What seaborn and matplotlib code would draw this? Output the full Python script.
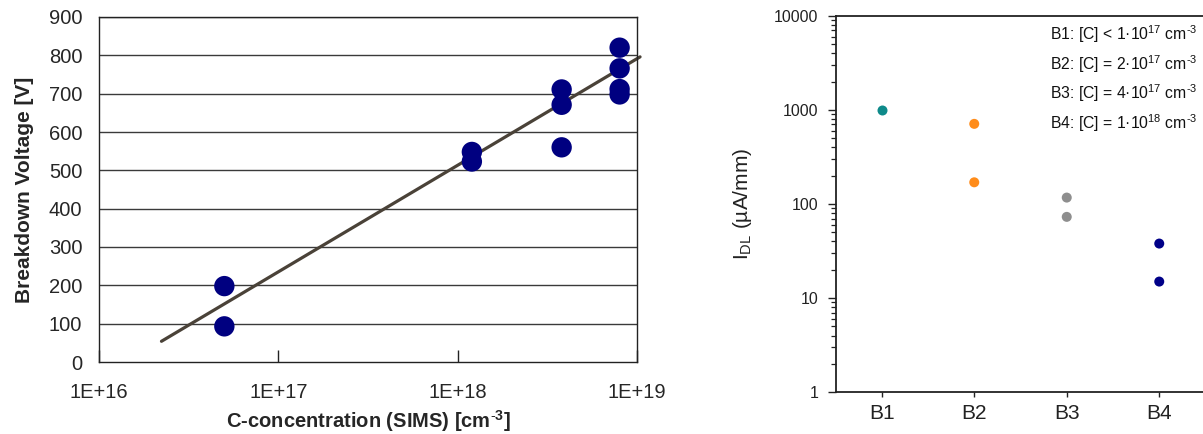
import numpy as np
import pandas as pd
import matplotlib
matplotlib.use("Agg")
import matplotlib.pyplot as plt
import matplotlib.ticker as mticker
import seaborn as sns

# ---------------- data ----------------
# Left: breakdown voltage vs C-concentration
conc = [5e16, 5e16, 1.2e18, 1.2e18, 3.8e18, 3.8e18, 3.8e18, 8e18, 8e18, 8e18, 8e18]
vbd = [198, 93, 548, 523, 711, 671, 560, 820, 766, 712, 698]
fit_conc = [2.23e16, 1.04e19]
fit_v = [54, 796]
left_xticks = [1e16, 1e17, 1e18, 1e19]
left_xticklabels = ["1E+16", "1E+17", "1E+18", "1E+19"]
left_yticks = [0, 100, 200, 300, 400, 500, 600, 700, 800, 900]

# Right: I_DL per batch
batch = ["B1", "B2", "B2", "B3", "B3", "B4", "B4"]
idl = [1000, 710, 170, 117, 73, 38, 15]
batch_order = ["B1", "B2", "B3", "B4"]
batch_colors = ["#0e8a8a", "#ff8c1a", "#8e8e8e", "#000088"]
legend_lines = [
    r"B1: [C] < 1·10$^{17}$ cm$^{\text{-}3}$",
    r"B2: [C] = 2·10$^{17}$ cm$^{\text{-}3}$",
    r"B3: [C] = 4·10$^{17}$ cm$^{\text{-}3}$",
    r"B4: [C] = 1·10$^{18}$ cm$^{\text{-}3}$",
]
right_yticks = [1, 10, 100, 1000, 10000]

# ---------------- style ----------------
sns.set_style("white")
plt.rcParams["font.family"] = ["Liberation Sans", "DejaVu Sans"]
plt.rcParams["mathtext.fontset"] = "custom"
plt.rcParams["mathtext.rm"] = "Liberation Sans"
plt.rcParams["mathtext.it"] = "Liberation Sans:italic"
plt.rcParams["mathtext.bf"] = "Liberation Sans:bold"

W, H = 1203, 434
fig = plt.figure(figsize=(W / 100, H / 100), dpi=100)

# ---------------- left chart ----------------
axL = fig.add_axes([99 / W, 1 - 362 / H, (637 - 99) / W, (362 - 17) / H])
df_left = pd.DataFrame({"conc": conc, "vbd": vbd})
df_fit = pd.DataFrame({"conc": fit_conc, "v": fit_v})

axL.set_xscale("log")
for yv in left_yticks[1:]:
    axL.axhline(yv, color="#3a3a3a", lw=1.0, zorder=0)
sns.lineplot(data=df_fit, x="conc", y="v", ax=axL, color="#4a4238", lw=2.3,
             zorder=2, clip_on=False)
sns.scatterplot(data=df_left, x="conc", y="vbd", ax=axL, color="#000080", s=215,
                edgecolor="none", zorder=3, clip_on=False)
axL.set_xlim(1e16, 1e19)
axL.set_ylim(0, 900)
axL.set_xticks(left_xticks)
axL.set_xticklabels(left_xticklabels)
axL.xaxis.set_minor_locator(mticker.NullLocator())
axL.set_yticks(left_yticks)
axL.tick_params(axis="x", which="major", direction="in", length=9, width=1,
                color="#222222", labelsize=14.5, pad=15, bottom=True)
axL.tick_params(axis="y", which="major", direction="in", length=0,
                labelsize=14.5, pad=12, left=True)
for sp in axL.spines.values():
    sp.set_visible(True)
    sp.set_color("#222222")
    sp.set_linewidth(1.0)
axL.set_xlabel(r"C-concentration (SIMS) [cm$^{\mathbf{\text{-}3}}$]", fontsize=14.5,
               fontweight="bold", va="center")
axL.xaxis.set_label_coords(0.5, (362 - 421) / 345)
axL.set_ylabel("Breakdown Voltage [V]", fontsize=15, fontweight="bold", labelpad=11)

# ---------------- right chart ----------------
axR = fig.add_axes([835.5 / W, 1 - 392.3 / H, 1 - 835.5 / W, (392.3 - 15.7) / H])
df_right = pd.DataFrame({"batch": batch, "idl": idl})
sns.stripplot(data=df_right, x="batch", y="idl", hue="batch", order=batch_order,
              hue_order=batch_order, palette=batch_colors, jitter=False, size=7.2,
              linewidth=0, ax=axR, legend=False, zorder=3)
axR.set_yscale("log")
axR.set_ylim(1, 10000)
axR.set_xlim(-0.5, -0.5 + (W - 835.5) / 92.5)
axR.yaxis.set_major_locator(mticker.FixedLocator(right_yticks))
axR.yaxis.set_major_formatter(mticker.FixedFormatter([str(v) for v in right_yticks]))
axR.yaxis.set_minor_locator(mticker.LogLocator(base=10, subs=np.arange(2, 10)))
axR.yaxis.set_minor_formatter(mticker.NullFormatter())
axR.tick_params(axis="y", which="major", direction="out", length=5.5, width=1,
                color="#222222", labelsize=11.5, pad=7, left=True, labelcolor="#222222")
axR.tick_params(axis="y", which="minor", direction="out", length=3.5, width=0.9,
                color="#222222", left=True)
axR.tick_params(axis="x", which="major", direction="out", length=3.5, width=1,
                color="#222222", labelsize=15, pad=5, bottom=True, labelcolor="#222222")
for name, sp in axR.spines.items():
    sp.set_color("#222222")
    sp.set_linewidth(1.3)
axR.spines["right"].set_visible(False)
axR.spines["top"].set_visible(True)
axR.set_xlabel("")
axR.set_ylabel(r"I$_{\mathrm{DL}}$ (µA/mm)", fontsize=15, labelpad=14, color="#222222")

for i, txt in enumerate(legend_lines):
    fig.text(1050 / W, 1 - (34 + 29.7 * i) / H, txt, fontsize=11.3, ha="left",
             va="center", color="#111111")

fig.savefig("out.png", dpi=100)
